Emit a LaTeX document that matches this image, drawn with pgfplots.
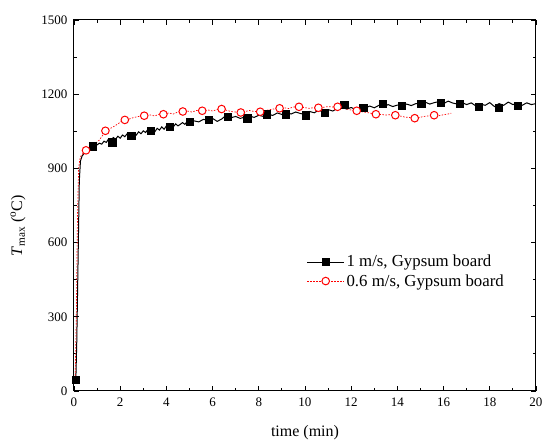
\documentclass[border=0pt]{standalone}
\usepackage{pgfplots}
\pgfplotsset{compat=1.18}
\usepackage{fontspec}
\setmainfont{Liberation Serif}
\begin{document}
\begin{tikzpicture}
\useasboundingbox (-74pt,-52pt) rectangle (468pt,391pt);
\begin{axis}[
  scale only axis, width=462pt, height=371pt,
  xmin=0, xmax=20, ymin=0, ymax=1500,
  xtick={0,2,...,20}, ytick={0,300,...,1500},
  minor x tick num=1, minor y tick num=1,
  tick align=inside, major tick length=5pt, minor tick length=3pt,
  axis line style={line width=1pt}, every tick/.style={black, line width=0.8pt},
  /pgf/number format/assume math mode=true,
  /pgf/number format/1000 sep={},
  tick label style={font=\fontsize{13}{15}\selectfont},
  yticklabel style={xshift=-3pt},
  xticklabel style={yshift=-3pt},
  label style={font=\fontsize{16}{18}\selectfont},
  xlabel={time (min)},
  ylabel={\textit{T}\textsubscript{max} (\textsuperscript{o}C)},
  xlabel style={at={(axis description cs:0.5,0)}, anchor=center, yshift=-42pt},
  ylabel style={at={(axis description cs:-0.121,0.445)}, anchor=center},
  legend style={draw=none, fill=none, at={(0.497,0.377)}, anchor=north west,
    font=\fontsize{16.8}{19}\selectfont, row sep=2pt},
  legend cell align=left,
  legend image code/.code={\draw[mark repeat=2,mark phase=2,#1] plot coordinates {(0cm,0cm)(0.65cm,0cm)(1.3cm,0cm)};},
]
\addplot[black, line width=1pt, forget plot] coordinates {
(0.08,47)(0.12,200)(0.18,550)(0.23,850)(0.28,930)(0.35,950)(0.45,962)(0.55,970)(0.65,980)(0.75,985)(0.85,992)(1.0,995)(1.1,1002)(1.2,998)(1.3,1010)(1.4,1005)(1.5,1020)(1.6,1012)(1.7,1025)(1.8,1018)(1.9,1030)(2.0,1022)(2.1,1035)(2.2,1028)(2.3,1040)(2.4,1030)(2.5,1036)(2.6,1045)(2.7,1035)(2.8,1048)(2.9,1040)(3.0,1052)(3.1,1045)(3.2,1058)(3.3,1050)(3.4,1055)(3.5,1048)(3.6,1062)(3.7,1055)(3.8,1068)(3.9,1058)(4.0,1072)(4.1,1065)(4.2,1075)(4.3,1068)(4.4,1080)(4.5,1072)(4.6,1078)(4.7,1085)(4.8,1078)(4.9,1090)(5.0,1085)(5.2,1092)(5.4,1088)(5.6,1098)(5.8,1095)(6.0,1102)(6.2,1090)(6.4,1100)(6.5,1108)(6.6,1112)(6.8,1105)(7.0,1110)(7.2,1102)(7.4,1108)(7.6,1112)(7.8,1106)(8.0,1115)(8.2,1110)(8.4,1120)(8.6,1114)(8.8,1124)(9.0,1118)(9.2,1125)(9.4,1120)(9.6,1128)(9.8,1122)(10.0,1118)(10.2,1130)(10.4,1125)(10.6,1135)(10.8,1128)(11.0,1138)(11.2,1132)(11.4,1142)(11.6,1148)(11.8,1140)(12.0,1146)(12.2,1138)(12.4,1148)(12.6,1144)(12.8,1152)(13.0,1145)(13.2,1155)(13.4,1150)(13.6,1158)(13.8,1150)(14.0,1156)(14.2,1152)(14.4,1160)(14.6,1154)(14.8,1162)(15.0,1160)(15.2,1168)(15.4,1160)(15.6,1166)(15.8,1170)(16.0,1162)(16.2,1172)(16.4,1164)(16.6,1160)(16.8,1166)(17.0,1158)(17.2,1165)(17.4,1152)(17.6,1160)(17.8,1155)(18.0,1166)(18.2,1150)(18.4,1162)(18.6,1155)(18.8,1168)(19.0,1158)(19.2,1162)(19.4,1155)(19.6,1165)(19.8,1158)(20.0,1162)
};
\addplot[black, only marks, mark=square*, mark size=3.6pt, forget plot] coordinates {
(0.075,47)(0.82,990)(1.65,1006)(2.48,1032)(3.32,1052)(4.16,1070)(5.0,1090)(5.83,1096)(6.67,1108)(7.5,1103)(8.35,1119)(9.18,1119)(10.02,1115)(10.86,1126)(11.7,1156)(12.52,1146)(13.36,1160)(14.2,1153)(15.03,1162)(15.87,1165)(16.71,1160)(17.53,1149)(18.37,1146)(19.2,1154)
};
\addplot[red, line width=0.7pt, dash pattern=on 1.5pt off 1.5pt, forget plot] coordinates {
(0.05,50)(0.1,300)(0.15,700)(0.2,900)(0.25,935)(0.3,950)(0.4,962)(0.52,973)(0.7,985)(0.9,998)(1.1,1015)(1.2,1028)(1.36,1050)(1.5,1058)(1.7,1068)(1.9,1080)(2.05,1090)(2.2,1096)(2.4,1100)(2.6,1106)(2.8,1110)(3.04,1113)(3.3,1116)(3.5,1112)(3.7,1120)(3.87,1119)(4.1,1124)(4.3,1120)(4.5,1128)(4.71,1130)(4.9,1132)(5.1,1128)(5.3,1134)(5.55,1133)(5.8,1136)(6.0,1132)(6.2,1138)(6.39,1140)(6.6,1135)(6.8,1130)(7.0,1128)(7.22,1126)(7.4,1130)(7.6,1134)(7.8,1130)(8.06,1129)(8.3,1134)(8.5,1138)(8.7,1141)(8.9,1143)(9.1,1145)(9.3,1142)(9.5,1148)(9.74,1149)(9.95,1146)(10.2,1143)(10.4,1146)(10.58,1145)(10.8,1147)(11.0,1150)(11.2,1148)(11.41,1149)(11.6,1145)(11.8,1140)(12.0,1136)(12.24,1133)(12.4,1130)(12.6,1127)(12.8,1124)(13.07,1119)(13.3,1118)(13.5,1116)(13.7,1117)(13.91,1115)(14.1,1112)(14.3,1108)(14.5,1106)(14.75,1103)(14.95,1106)(15.15,1110)(15.35,1112)(15.59,1115)(15.8,1113)(16.0,1117)(16.2,1120)(16.33,1123)
};
\addplot[red, only marks, mark=*, mark options={fill=white, line width=1pt}, mark size=3.8pt, forget plot] coordinates {
(0.52,973)(1.36,1052)(2.2,1096)(3.04,1113)(3.87,1119)(4.71,1130)(5.55,1133)(6.39,1140)(7.22,1126)(8.06,1129)(8.9,1143)(9.74,1149)(10.58,1145)(11.41,1149)(12.24,1133)(13.07,1119)(13.91,1115)(14.75,1103)(15.59,1115)
};
\addlegendimage{black, line width=0.8pt, mark=square*, mark size=3.6pt}
\addlegendentry{1 m/s, Gypsum board}
\addlegendimage{red, line width=0.7pt, dash pattern=on 1.5pt off 1.5pt, mark=*, mark options={solid, fill=white, line width=1pt}, mark size=3.8pt}
\addlegendentry{0.6 m/s, Gypsum board}
\end{axis}
\end{tikzpicture}
\end{document}
